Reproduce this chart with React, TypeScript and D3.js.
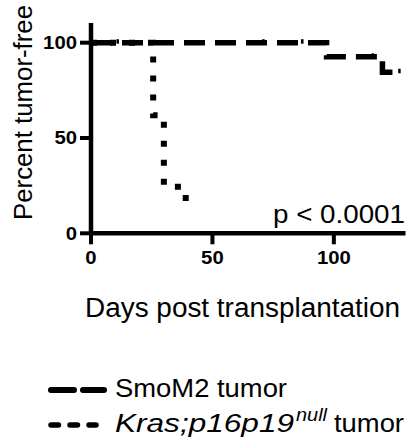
import React from "react";
import * as d3 from "d3";

// Kaplan-Meier style step data
const smoDays = [0, 97, 120, 127];
const smoPct = [100, 92.6, 84.5, 84.5];
const smoCensorDays = [11, 71, 87, 116, 127];

const krasDays = [0, 25.6, 30, 39];
const krasPct = [100, 62, 24.4, 12];

const xTicks = [0, 50, 100];
const yTicks = [0, 50, 100];

const width = 413;
const height = 445;
const font = "'Liberation Sans', Arial, Helvetica, sans-serif";

const stepAt = (days: number[], pct: number[], t: number) => {
  let v = pct[0];
  days.forEach((d, i) => {
    if (t >= d) v = pct[i];
  });
  return v;
};

export default function App() {
  const x = d3.scaleLinear().domain([0, 129.5]).range([91, 405.5]);
  const y = d3.scaleLinear().domain([0, 100]).range([233.3, 42.7]);

  const line = d3
    .line<[number, number]>()
    .x((d) => x(d[0]))
    .y((d) => y(d[1]))
    .curve(d3.curveStepAfter);

  const smo = smoDays.map((d, i) => [d, smoPct[i]] as [number, number]);
  const kras = krasDays.map((d, i) => [d, krasPct[i]] as [number, number]);

  const tickLen = (t: number) => String(t).length * 11.3;

  return (
    <div style={{ position: "absolute", left: 0, top: 0 }}>
      <svg width={width} height={height} style={{ display: "block", background: "#fff" }}>
        {/* axes */}
        <line x1={x(0)} x2={x(0)} y1={23} y2={y(0)} stroke="#000" strokeWidth={4.5} />
        <line x1={x(0)} x2={405.5} y1={y(0)} y2={y(0)} stroke="#000" strokeWidth={4.5} />
        {yTicks.map((t) => (
          <g key={"y" + t}>
            <line x1={x(0) - 11} x2={x(0)} y1={y(t)} y2={y(t)} stroke="#000" strokeWidth={4} />
            <text
              x={x(0) - 14 - tickLen(t)}
              y={y(t)}
              dy="0.36em"
              textLength={tickLen(t)}
              lengthAdjust="spacingAndGlyphs"
              fontFamily={font}
              fontWeight="bold"
              fontSize={18}
            >
              {t}
            </text>
          </g>
        ))}
        {xTicks.map((t) => (
          <g key={"x" + t}>
            <line x1={x(t)} x2={x(t)} y1={y(0)} y2={y(0) + 11} stroke="#000" strokeWidth={4} />
            <text
              x={x(t) - tickLen(t) / 2}
              y={264}
              textLength={tickLen(t)}
              lengthAdjust="spacingAndGlyphs"
              fontFamily={font}
              fontWeight="bold"
              fontSize={18}
            >
              {t}
            </text>
          </g>
        ))}

        {/* curves */}
        <path d={line(kras) || ""} fill="none" stroke="#000" strokeWidth={6} strokeDasharray="6,13" />
        <path d={line(smo) || ""} fill="none" stroke="#000" strokeWidth={5.5} strokeDasharray="21,10" />
        {smoCensorDays.map((t) => (
          <line
            key={"c" + t}
            x1={x(t)}
            x2={x(t)}
            y1={y(stepAt(smoDays, smoPct, t)) - 3.5}
            y2={y(stepAt(smoDays, smoPct, t)) + 1}
            stroke="#000"
            strokeWidth={2.5}
          />
        ))}

        {/* labels */}
        <text x={273} y={223} textLength={132} lengthAdjust="spacingAndGlyphs" fontFamily={font} fontSize={26}>
          p &lt; 0.0001
        </text>
        <text
          transform="translate(32,220) rotate(-90)"
          textLength={215}
          lengthAdjust="spacingAndGlyphs"
          fontFamily={font}
          fontSize={26}
        >
          Percent tumor-free
        </text>
        <text x={85} y={317} textLength={315} lengthAdjust="spacingAndGlyphs" fontFamily={font} fontSize={27}>
          Days post transplantation
        </text>

        {/* legend */}
        <line x1={51} x2={104} y1={390} y2={390} stroke="#000" strokeWidth={6} strokeLinecap="round" strokeDasharray="23,9" />
        <text x={115} y={397} textLength={172} lengthAdjust="spacingAndGlyphs" fontFamily={font} fontSize={26}>
          SmoM2 tumor
        </text>
        <line x1={51} x2={96} y1={425} y2={425} stroke="#000" strokeWidth={5.5} strokeLinecap="round" strokeDasharray="7.5,11.5" />
        <text x={115} y={432} textLength={179} lengthAdjust="spacingAndGlyphs" fontFamily={font} fontStyle="italic" fontSize={26}>
          Kras;p16p19
        </text>
        <text x={296} y={421} textLength={31} lengthAdjust="spacingAndGlyphs" fontFamily={font} fontStyle="italic" fontSize={18}>
          null
        </text>
        <text x={334} y={432} textLength={70} lengthAdjust="spacingAndGlyphs" fontFamily={font} fontSize={26}>
          tumor
        </text>
      </svg>
    </div>
  );
}
